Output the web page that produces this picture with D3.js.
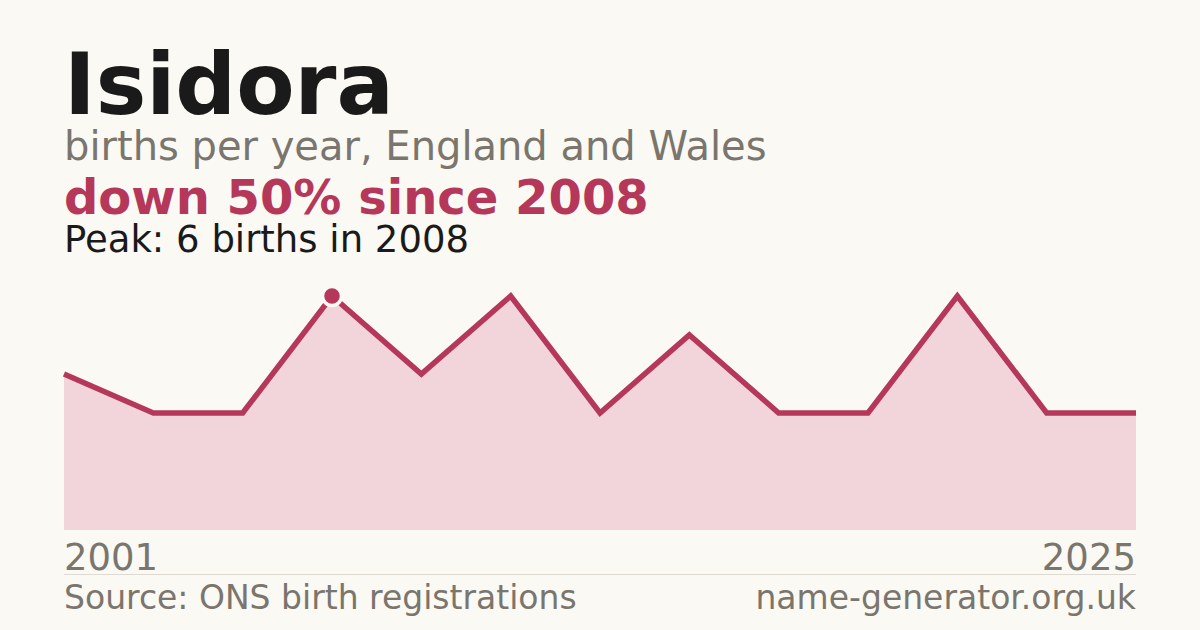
<!DOCTYPE html>
<html>
<head>
<meta charset="utf-8">
<script src="https://cdn.jsdelivr.net/npm/d3@7"></script>
<style>
  html, body { margin: 0; padding: 0; background: #faf9f4; }
  svg { display: block; font-family: "DejaVu Sans", sans-serif; }
</style>
</head>
<body>
<script>
const width = 1200;
const height = 630;

// Data.
const years = [2001, 2004, 2006, 2008, 2010, 2012, 2014, 2016, 2018, 2020, 2022, 2024, 2025];
const births = [4, 3, 3, 6, 4, 6, 3, 5, 3, 3, 6, 3, 3];
const peakYear = 2008;
const axisLabels = ["2001", "2025"];

const red = "#b5385a";
const grey = "#7a756d";

const svg = d3.select("body").append("svg")
  .attr("width", width)
  .attr("height", height);

svg.append("rect")
  .attr("width", width)
  .attr("height", height)
  .attr("fill", "#faf9f4");

// Header texts.
svg.append("text")
  .attr("x", 64).attr("y", 114)
  .attr("fill", "#1a1a1a")
  .style("font-size", "85px")
  .style("font-weight", "bold")
  .text("Isidora");

svg.append("text")
  .attr("x", 64).attr("y", 160)
  .attr("fill", grey)
  .style("font-size", "40px")
  .text("births per year, England and Wales");

svg.append("text")
  .attr("x", 64).attr("y", 214)
  .attr("fill", red)
  .style("font-size", "48px")
  .style("font-weight", "bold")
  .text("down 50% since 2008");

svg.append("text")
  .attr("x", 64).attr("y", 252)
  .attr("fill", "#1a1a1a")
  .style("font-size", "37px")
  .text("Peak: 6 births in 2008");

// Scales.
const x = d3.scalePoint()
  .domain(years)
  .range([64, 1136]);

const y = d3.scaleLinear()
  .domain([0, d3.max(births)])
  .range([530, 296]);

const data = years.map((yr, i) => ({ year: yr, value: births[i] }));

// Area under the line.
svg.append("path")
  .datum(data)
  .attr("fill", "#f1d5db")
  .attr("d", d3.area()
    .x(d => x(d.year))
    .y0(y(0))
    .y1(d => y(d.value)));

// The line itself.
svg.append("path")
  .datum(data)
  .attr("fill", "none")
  .attr("stroke", red)
  .attr("stroke-width", 5.5)
  .attr("stroke-linejoin", "miter")
  .attr("d", d3.line()
    .x(d => x(d.year))
    .y(d => y(d.value)));

// Peak marker.
const peak = data.find(d => d.year === peakYear);
svg.append("circle")
  .attr("cx", x(peak.year))
  .attr("cy", y(peak.value))
  .attr("r", 9.5)
  .attr("fill", red)
  .attr("stroke", "#faf9f4")
  .attr("stroke-width", 3.5);

// Year labels under the chart.
svg.append("text")
  .attr("x", 64).attr("y", 570)
  .attr("fill", grey)
  .style("font-size", "37px")
  .text(axisLabels[0]);

svg.append("text")
  .attr("x", 1136).attr("y", 570)
  .attr("text-anchor", "end")
  .attr("fill", grey)
  .style("font-size", "37px")
  .text(axisLabels[1]);

// Separator and footer.
svg.append("line")
  .attr("x1", 64).attr("x2", 1136)
  .attr("y1", 574.5).attr("y2", 574.5)
  .attr("stroke", "#dedad2")
  .attr("stroke-width", 1);

svg.append("text")
  .attr("x", 64).attr("y", 609)
  .attr("fill", grey)
  .style("font-size", "33px")
  .text("Source: ONS birth registrations");

svg.append("text")
  .attr("x", 1136).attr("y", 609)
  .attr("text-anchor", "end")
  .attr("fill", grey)
  .style("font-size", "33px")
  .text("name-generator.org.uk");
</script>
</body>
</html>
